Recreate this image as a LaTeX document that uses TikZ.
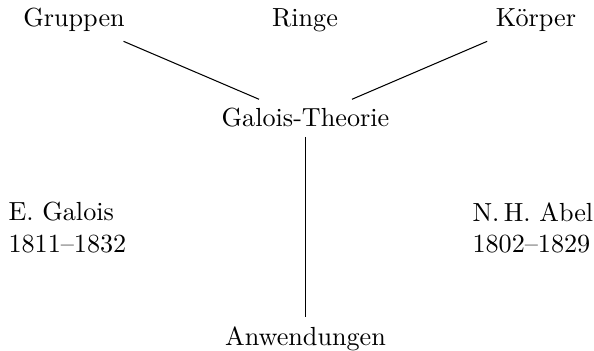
\documentclass[tikz,border=0pt]{standalone}
\usepackage{tikz}
\usetikzlibrary{positioning}
\tikzstyle{topic} = [anchor=base, font=\normalsize]
\tikzstyle{person} = [align=left, inner sep=0pt, anchor=north west, font=\normalsize]
\tikzstyle{link} = [thin, black]

\begin{document}
\begin{tikzpicture}[x=0.382pt, y=-0.382pt]
    \useasboundingbox (0,0) rectangle (594,351);
    \node (gruppen) [topic] at (74,27) {Gruppen};
    \node (ringe) [topic] at (305,27) {Ringe};
    \node (koerper) [topic] at (536,27) {Körper};
    \node (theorie) [topic] at (305.5,127) {Galois-Theorie};
    \node (anw) [topic] at (305.5,345) {Anwendungen};
    \node (galois) [person] at (8,202) {E. Galois\\1811--1832};
    \node (abel) [person] at (472,202) {N.\,H. Abel\\1802--1829};

    \draw [link] (gruppen.-23) -- (theorie.158);
    \draw [link] (koerper.203) -- (theorie.22.5);
    \draw [link] (theorie) -- (anw);
\end{tikzpicture}
\end{document}
